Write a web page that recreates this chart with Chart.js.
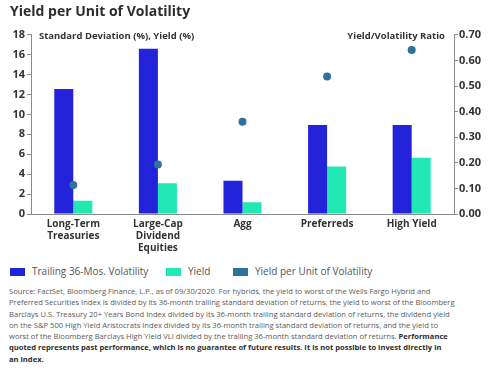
<!DOCTYPE html>
<html>
<head>
<meta charset="utf-8">
<script src="https://cdn.jsdelivr.net/npm/chart.js@4"></script>
<style>
  body { margin: 0; background: #fff; font-family: "Open Sans", sans-serif; }
  #wrap { position: relative; width: 500px; height: 379px; }
  #chartBox { position: absolute; left: 0; top: 0; width: 500px; height: 264px; }
  .leg { position: absolute; top: 265px; font-size: 10px; color: #555; white-space: nowrap; line-height: 12px; }
  .leg i { display: inline-block; width: 15px; height: 8px; margin-right: 7px; vertical-align: -0.5px; }
  #note { position: absolute; left: 9px; top: 286px; font-size: 7.6px; line-height: 11.3px; color: #5a5a5a; white-space: nowrap; }
  #note b { color: #2d2d2d; }
</style>
</head>
<body>
<div id="wrap">
  <div id="chartBox"><canvas id="myChart"></canvas></div>
  <div class="leg" style="left:10px"><i style="background:#2323d9"></i>Trailing 36-Mos. Volatility</div>
  <div class="leg" style="left:166px"><i style="background:#22e8b4"></i>Yield</div>
  <div class="leg" style="left:233px"><i style="background:#2f729e"></i>Yield per Unit of Volatility</div>
  <div id="note">
    Source: FactSet, Bloomberg Finance, L.P., as of 09/30/2020. For hybrids, the yield to worst of the Wells Fargo Hybrid and<br>
    Preferred Securities Index is divided by its 36-month trailing standard deviation of returns, the yield to worst of the Bloomberg<br>
    Barclays U.S. Treasury 20+ Years Bond Index divided by its 36-month trailing standard deviation of returns, the dividend yield<br>
    on the S&amp;P 500 High Yield Aristocrats Index divided by its 36-month trailing standard deviation of returns, and the yield to<br>
    worst of the Bloomberg Barclays High Yield VLI divided by the trailing 36-month standard deviation of returns. <b>Performance</b><br>
    <b>quoted represents past performance, which is no guarantee of future results. It is not possible to invest directly in</b><br>
    <b>an index.</b>
  </div>
</div>
<script>
const categories = [
  ['Long-Term', 'Treasuries'],
  ['Large-Cap', 'Dividend', 'Equities'],
  'Agg',
  'Preferreds',
  'High Yield'
];
const volatility = [12.55, 16.6, 3.35, 8.95, 8.95];
const yields = [1.34, 3.1, 1.18, 4.76, 5.66];
const ratio = [0.113, 0.193, 0.36, 0.537, 0.641];
const leftTicks = [0, 2, 4, 6, 8, 10, 12, 14, 16, 18];
const rightTicks = [0, 0.1, 0.2, 0.3, 0.4, 0.5, 0.6, 0.7];

const tickFont = { family: 'Open Sans', size: 11, weight: 'bold' };

const axisTitles = {
  id: 'axisTitles',
  afterDraw(chart) {
    const ctx = chart.ctx;
    const a = chart.chartArea;
    ctx.save();
    ctx.font = 'bold 9.5px "Open Sans"';
    ctx.fillStyle = '#333';
    ctx.textBaseline = 'middle';
    ctx.textAlign = 'left';
    ctx.fillText('Standard Deviation (%), Yield (%)', a.left + 8, a.top + 1);
    ctx.textAlign = 'right';
    ctx.fillText('Yield/Volatility Ratio', a.right - 9, a.top + 1);
    ctx.restore();
  }
};

new Chart(document.getElementById('myChart'), {
  type: 'bar',
  data: {
    labels: categories,
    datasets: [
      {
        label: 'Yield per Unit of Volatility',
        type: 'line',
        data: ratio,
        yAxisID: 'y1',
        showLine: false,
        pointRadius: 4,
        pointHoverRadius: 4,
        pointBackgroundColor: '#2f729e',
        pointBorderWidth: 0,
        order: 0
      },
      {
        label: 'Trailing 36-Mos. Volatility',
        data: volatility,
        backgroundColor: '#2323d9',
        yAxisID: 'y',
        order: 1
      },
      {
        label: 'Yield',
        data: yields,
        backgroundColor: '#22e8b4',
        yAxisID: 'y',
        order: 1
      }
    ]
  },
  options: {
    responsive: true,
    maintainAspectRatio: false,
    animation: false,
    layout: { padding: { left: 10, right: 0, top: 0, bottom: 0 } },
    datasets: { bar: { categoryPercentage: 0.45, barPercentage: 1 } },
    plugins: {
      legend: { display: false },
      tooltip: { enabled: false },
      title: {
        display: true,
        text: 'Yield per Unit of Volatility',
        align: 'start',
        color: '#2d2d2d',
        font: { family: 'Open Sans', size: 14, weight: 'bold' },
        padding: { top: 4, bottom: 14 }
      }
    },
    scales: {
      x: {
        grid: { display: false, drawTicks: false },
        border: { display: true, color: '#8a8a8a', width: 1 },
        ticks: { color: '#333', font: { family: 'Open Sans', size: 10, weight: 'bold' }, padding: 4, maxRotation: 0, autoSkip: false },
        afterFit(s) { s.height = 50; }
      },
      y: {
        position: 'left',
        min: 0,
        max: 18,
        afterBuildTicks(s) { s.ticks = leftTicks.map(v => ({ value: v })); },
        grid: { drawOnChartArea: false, drawTicks: true, tickLength: 4, color: '#8a8a8a' },
        border: { display: true, color: '#8a8a8a', width: 1 },
        ticks: { color: '#333', font: tickFont, padding: 2 },
        afterFit(s) { s.width = 21; }
      },
      y1: {
        position: 'right',
        min: 0,
        max: 0.7,
        afterBuildTicks(s) { s.ticks = rightTicks.map(v => ({ value: v })); },
        grid: { drawOnChartArea: false, drawTicks: true, tickLength: 4, color: '#8a8a8a' },
        border: { display: true, color: '#8a8a8a', width: 1 },
        ticks: { color: '#333', font: tickFont, padding: 1, callback: v => v.toFixed(2) },
        afterFit(s) { s.width = 46; }
      }
    }
  },
  plugins: [axisTitles]
});
</script>
</body>
</html>
